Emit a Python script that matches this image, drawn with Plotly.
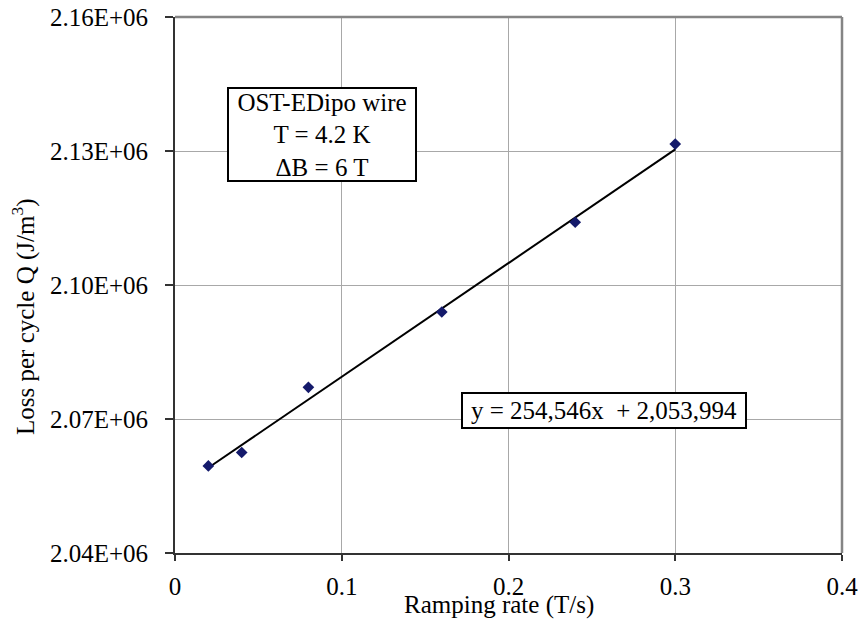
import plotly.graph_objects as go

# Measured loss per cycle versus ramping rate
ramp_rate = [0.02, 0.04, 0.08, 0.16, 0.24, 0.30]
loss_q = [2059500, 2062500, 2077100, 2093950, 2114050, 2131550]

# Linear fit coefficients (as printed on the chart)
fit_slope = 254546
fit_intercept = 2053994
fit_x = [0.02, 0.30]

x_ticks = [0, 0.1, 0.2, 0.3, 0.4]
x_tick_text = ["0", "0.1", "0.2", "0.3", "0.4"]
y_ticks = [2040000, 2070000, 2100000, 2130000, 2160000]
y_tick_text = ["2.04E+06", "2.07E+06", "2.10E+06", "2.13E+06", "2.16E+06"]

FONT = "Liberation Serif"
fit_y = [fit_slope * x + fit_intercept for x in fit_x]

fig = go.Figure()
fig.add_trace(go.Scatter(
    x=fit_x, y=fit_y, mode="lines",
    line=dict(color="black", width=2),
    showlegend=False, hoverinfo="skip",
))
fig.add_trace(go.Scatter(
    x=ramp_rate, y=loss_q, mode="markers",
    marker=dict(symbol="diamond", size=9, color="#141a6b"),
    showlegend=False,
))

fig.update_layout(
    width=861, height=621,
    margin=dict(l=175, r=19, t=17, b=68),
    paper_bgcolor="white", plot_bgcolor="white",
    font=dict(family=FONT, size=25, color="black"),
    xaxis=dict(
        range=[0, 0.4], tickvals=x_ticks, ticktext=x_tick_text,
        showgrid=True, gridcolor="#a8a8a8", gridwidth=1,
        showline=True, linecolor="#333333", linewidth=2,
        ticks="outside", ticklen=6, tickcolor="#333333", tickwidth=1.5,
        zeroline=False, ticklabelstandoff=4, automargin=False,
        tickfont=dict(family=FONT, size=25, color="black"),
    ),
    yaxis=dict(
        range=[2040000, 2160000], tickvals=y_ticks, ticktext=y_tick_text,
        showgrid=True, gridcolor="#a8a8a8", gridwidth=1,
        showline=True, linecolor="#333333", linewidth=2,
        ticks="outside", ticklen=8, tickcolor="#333333", tickwidth=1.5,
        zeroline=False, ticklabelstandoff=12, automargin=False,
        tickfont=dict(family=FONT, size=25, color="black"),
    ),
)

# Plot-area frame on the top and right
fig.add_shape(type="line", xref="paper", yref="paper", x0=0, x1=1, y0=1, y1=1,
              line=dict(color="#858585", width=2.5))
fig.add_shape(type="line", xref="paper", yref="paper", x0=1, x1=1, y0=0, y1=1,
              line=dict(color="#858585", width=2.5))

# Axis titles
fig.add_annotation(
    text="Ramping rate (T/s)", xref="paper", yref="paper",
    x=(499 - 175) / 667, y=(553 - 605) / 536,
    xanchor="center", yanchor="middle", showarrow=False,
    font=dict(family=FONT, size=25, color="black"),
)
fig.add_annotation(
    text="Loss per cycle Q (J/m<sup>3</sup>)", xref="paper", yref="paper",
    x=(23 - 175) / 667, y=(553 - 317) / 536, textangle=-90,
    xanchor="center", yanchor="middle", showarrow=False,
    font=dict(family=FONT, size=25, color="black"),
)

# Wire / conditions label
fig.add_annotation(
    text="OST-EDipo wire<br>T = 4.2 K<br>ΔB = 6 T",
    x=0.0882, y=2133600, xref="x", yref="y",
    showarrow=False, align="center",
    width=186, height=91, borderpad=0,
    bordercolor="black", borderwidth=2, bgcolor="white",
    font=dict(family=FONT, size=25, color="black"),
)

# Fit equation label
fig.add_annotation(
    text=f"y = {fit_slope:,}x  + {fit_intercept:,}",
    x=0.2573, y=2071800, xref="x", yref="y",
    showarrow=False, align="center",
    width=282, height=33, borderpad=0,
    bordercolor="black", borderwidth=2, bgcolor="white",
    font=dict(family=FONT, size=25, color="black"),
)

fig.write_html("out.html")
